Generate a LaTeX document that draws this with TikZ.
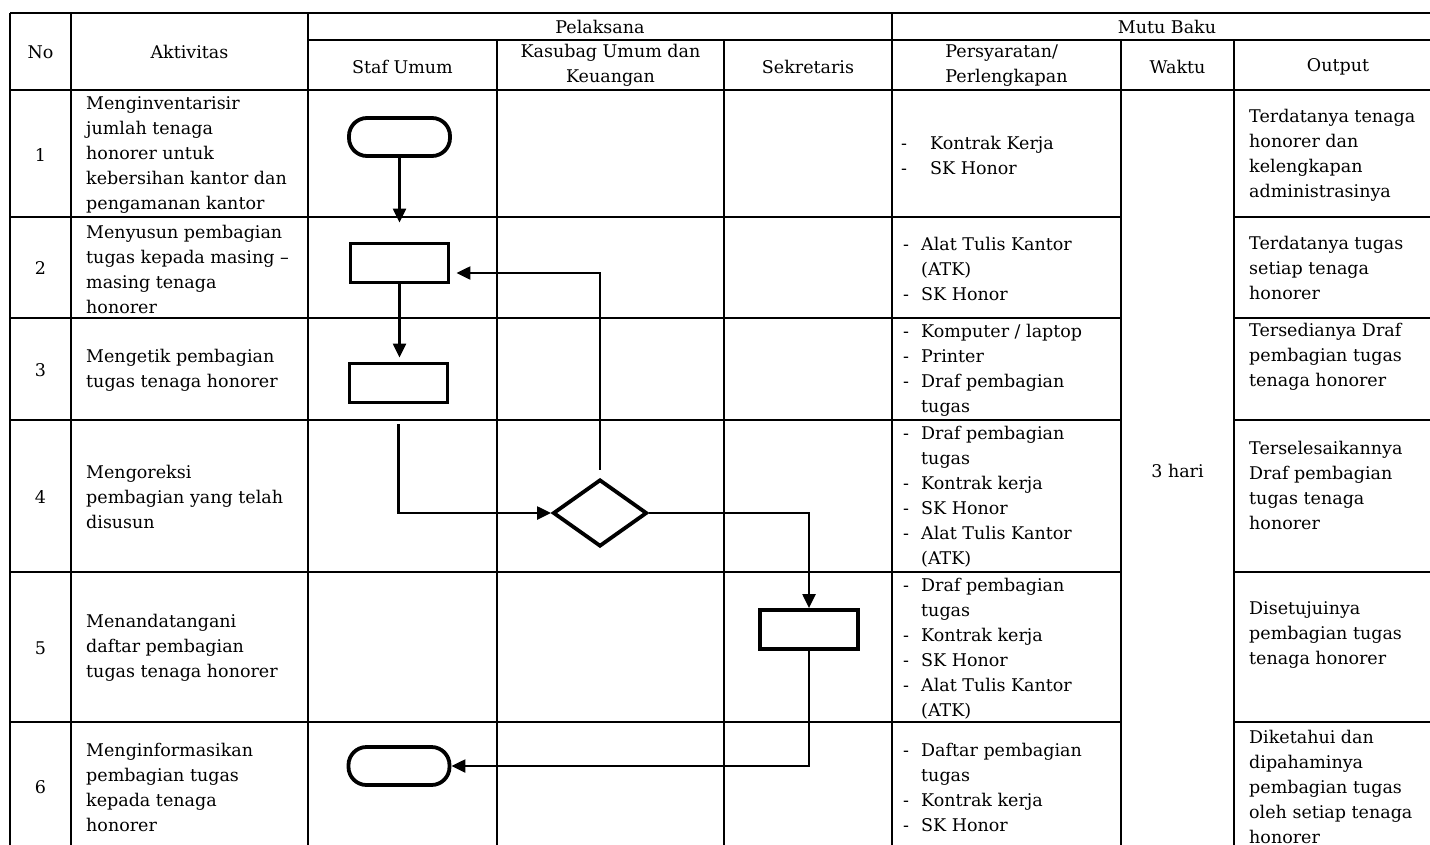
\documentclass[tikz,border=0pt]{standalone}
\usepackage{fontspec}
\setmainfont{DejaVu Serif}
\usetikzlibrary{shapes.geometric,arrows.meta}
\newcommand{\itm}{\makebox[18pt][l]{-}}
\newcommand{\itmw}{\makebox[29pt][l]{-}}
\newcommand{\ind}{\hspace*{18pt}}
\begin{document}
\begin{tikzpicture}[x=1pt,y=-1pt,
  every node/.style={inner sep=0pt, font=\fontsize{17.5}{25}\selectfont},
  grid/.style={line width=2.2pt},
  shp/.style={draw, line width=3.8pt},
  term/.style={shp, rectangle, rounded corners=18pt, minimum width=101pt, minimum height=38pt},
  proc/.style={shp, rectangle, minimum width=98pt, minimum height=39pt},
  dec/.style={shp, diamond, minimum width=94pt, minimum height=67pt},
  conn/.style={line width=2.2pt, -{Triangle[length=14pt,width=13pt]}},
  cell/.style={anchor=west, align=left},
  ctr/.style={align=center}]
\useasboundingbox (0,0) rectangle (1430,844);
\clip (0,0) rectangle (1430,844);
% grid
\draw[grid] (10,13) -- (1445,13);
\draw[grid] (308,40) -- (1445,40);
\draw[grid] (10,90) -- (1445,90);
\foreach \y in {217,318,420,572,722} {
  \draw[grid] (10,\y) -- (1121,\y);
  \draw[grid] (1234,\y) -- (1445,\y);
}
\foreach \x in {10,71,308,892} { \draw[grid] (\x,13) -- (\x,860); }
\foreach \x in {497,724,1121,1234} { \draw[grid] (\x,40) -- (\x,860); }
% headers
\node (hNo) at (40.5,52) {No};
\node (hAkt) at (189.5,52) {Aktivitas};
\node (hPel) at (600,27) {Pelaksana};
\node (hMutu) at (1167,27) {Mutu Baku};
\node (hStaf) at (402.5,67) {Staf Umum};
\node[ctr] (hKas) at (610.5,65.5) {Kasubag Umum dan\\Keuangan};
\node (hSek) at (808,67) {Sekretaris};
\node[align=left] (hPer) at (1006.5,65.5) {Persyaratan/\\Perlengkapan};
\node (hWak) at (1177.5,67) {Waktu};
\node (hOut) at (1338,67) {Output};
% numbers
\node (n1) at (40.5,155) {1};
\node (n2) at (40.5,268) {2};
\node (n3) at (40.5,370) {3};
\node (n4) at (40.5,497) {4};
\node (n5) at (40.5,648) {5};
\node (n6) at (40.5,787) {6};
% aktivitas
\node[cell] (a1) at (86,155) {Menginventarisir\\jumlah tenaga\\honorer untuk\\kebersihan kantor dan\\pengamanan kantor};
\node[cell] (a2) at (86,269) {Menyusun pembagian\\tugas kepada masing –\\masing tenaga\\honorer};
\node[cell] (a3) at (86,370) {Mengetik pembagian\\tugas tenaga honorer};
\node[cell] (a4) at (86,497) {Mengoreksi\\pembagian yang telah\\disusun};
\node[cell] (a5) at (86,648) {Menandatangani\\daftar pembagian\\tugas tenaga honorer};
\node[cell] (a6) at (86,787) {Menginformasikan\\pembagian tugas\\kepada tenaga\\honorer};
% persyaratan
\node[cell] (p1) at (901,155) {\itmw Kontrak Kerja\\\itmw SK Honor};
\node[cell] (p2) at (903,269) {\itm Alat Tulis Kantor\\\ind (ATK)\\\itm SK Honor};
\node[cell] (p3) at (903,370) {\itm Komputer / laptop\\\itm Printer\\\itm Draf pembagian\\\ind tugas};
\node[cell] (p4) at (903,497) {\itm Draf pembagian\\\ind tugas\\\itm Kontrak kerja\\\itm SK Honor\\\itm Alat Tulis Kantor\\\ind (ATK)};
\node[cell] (p5) at (903,649) {\itm Draf pembagian\\\ind tugas\\\itm Kontrak kerja\\\itm SK Honor\\\itm Alat Tulis Kantor\\\ind (ATK)};
\node[cell] (p6) at (903,787) {\itm Daftar pembagian\\\ind tugas\\\itm Kontrak kerja\\\itm SK Honor};
% waktu
\node (w) at (1177.5,471) {3 hari};
% output
\node[cell] (o1) at (1249,155) {Terdatanya tenaga\\honorer dan\\kelengkapan\\administrasinya};
\node[cell] (o2) at (1249,268) {Terdatanya tugas\\setiap tenaga\\honorer};
\node[cell] (o3) at (1249,357) {Tersedianya Draf\\pembagian tugas\\tenaga honorer};
\node[cell] (o4) at (1249,485.5) {Terselesaikannya\\Draf pembagian\\tugas tenaga\\honorer};
\node[cell] (o5) at (1249,635) {Disetujuinya\\pembagian tugas\\tenaga honorer};
\node[cell] (o6) at (1249,787) {Diketahui dan\\dipahaminya\\pembagian tugas\\oleh setiap tenaga\\honorer};
% flow shapes
\node[term] (t1) at (399.5,137) {};
\node[proc] (r2) at (399.5,263) {};
\node[proc] (r3) at (398.5,383) {};
\node[dec] (d4) at (600,513) {};
\node[proc] (r5) at (809,629.5) {};
\node[term] (t6) at (399,766) {};
\coordinate (k2) at (600,273);
% connectors
\draw[conn, shorten >=19pt] (t1.south) -- (t1.south |- r2.north);
\draw[conn, shorten >=4pt] (r2.south) -- (r2.south |- r3.north);
\draw[conn, shorten <=20pt] (r3.south) |- (d4.west);
\draw[conn, shorten <=8pt, shorten >=6pt] (d4.north) -- (k2) -- (k2 -| r2.east);
\draw[conn] (d4.east) -| (r5.north);
\draw[conn] (r5.south) |- (t6.east);
\end{tikzpicture}
\end{document}
